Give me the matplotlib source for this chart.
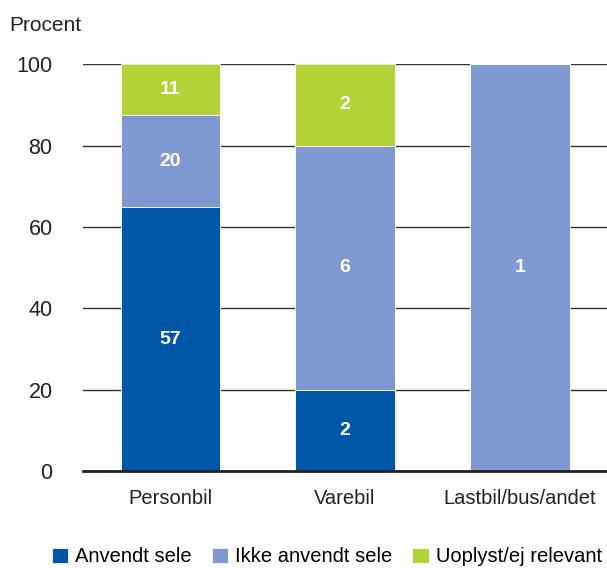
import matplotlib.pyplot as plt
import numpy as np

plt.rcParams['font.family'] = ['Liberation Sans', 'DejaVu Sans']

categories = ["Personbil", "Varebil", "Lastbil/bus/andet"]
series = ["Anvendt sele", "Ikke anvendt sele", "Uoplyst/ej relevant"]
counts = {
    "Anvendt sele": [57, 2, 0],
    "Ikke anvendt sele": [20, 6, 1],
    "Uoplyst/ej relevant": [11, 2, 0],
}
colors = ["#0057a8", "#8199d1", "#b2d235"]

totals = np.sum([counts[s] for s in series], axis=0)

fig = plt.figure(figsize=(6.07, 5.68), dpi=100)
ax = fig.add_axes([0.137, 0.171, 0.863, 0.716])

x = np.arange(len(categories))
bottom = np.zeros(len(categories))
for s, c in zip(series, colors):
    vals = np.array(counts[s], dtype=float)
    pct = vals / totals * 100
    ax.bar(x, pct, 0.571, bottom=bottom, color=c, label=s,
           edgecolor="white", linewidth=0.6, zorder=3)
    for xi, v, p, b in zip(x, vals, pct, bottom):
        if v > 0:
            ax.text(xi, b + p / 2, f"{int(v)}", ha="center", va="center",
                    color="white", fontsize=14, fontweight="bold", zorder=4)
    bottom += pct

ax.set_xlim(-0.5, 2.5)
ax.set_ylim(0, 100)
ax.set_yticks(range(0, 101, 20))
ax.grid(axis="y", color="#333333", linewidth=1.0, zorder=0)
ax.set_xticks(x)
ax.set_xticklabels(categories)
ax.tick_params(axis="both", length=0, colors="#222222")
ax.tick_params(axis="y", pad=22, labelsize=15.5)
ax.tick_params(axis="x", pad=13, labelsize=14.5)
for sp in ["top", "right", "left"]:
    ax.spines[sp].set_visible(False)
ax.spines["bottom"].set_linewidth(2)
ax.spines["bottom"].set_color("#222222")
ax.spines["bottom"].set_zorder(5)

fig.text(0.016, 0.955, "Procent", fontsize=15, color="#222222", va="center")

fig.legend(loc="center left", bbox_to_anchor=(52 / 607, 1 - 557 / 568), ncol=3,
           frameon=False, fontsize=14.5, handlelength=0.8, handleheight=0.8,
           handletextpad=0.35, columnspacing=1.0, borderaxespad=0, borderpad=0)

fig.savefig("out.png", dpi=100)
